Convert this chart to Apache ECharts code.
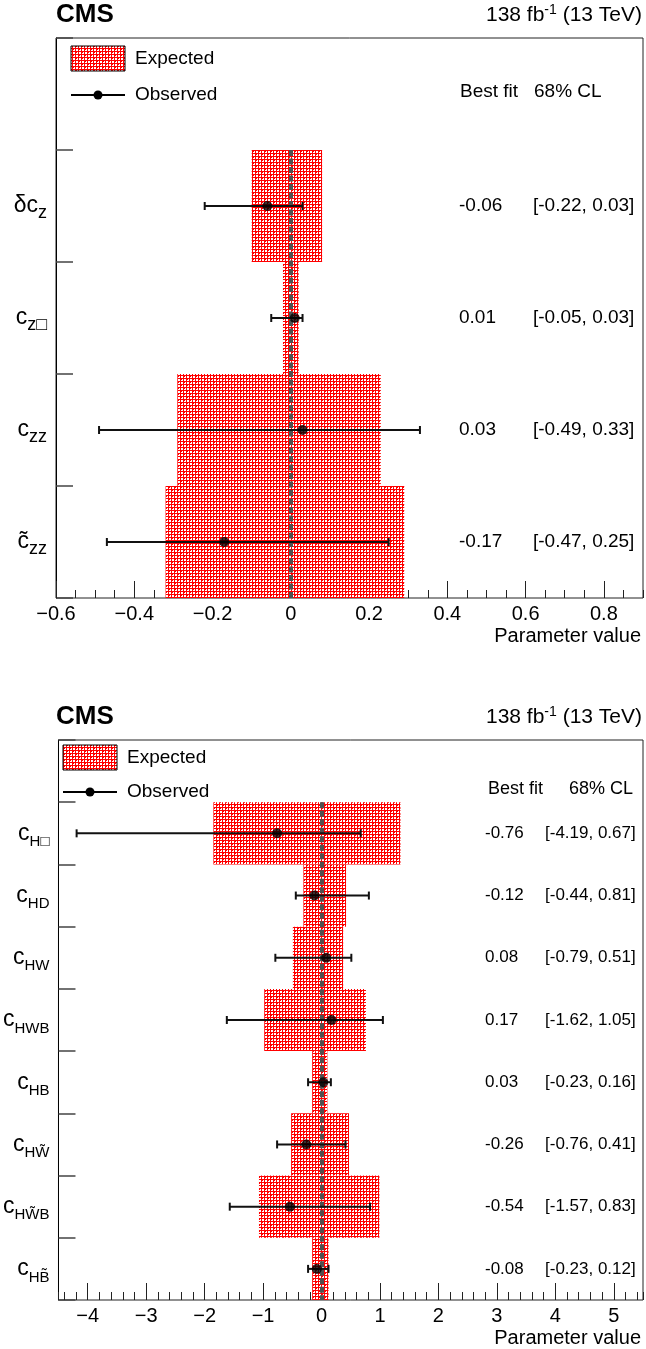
<!DOCTYPE html>
<html><head><meta charset="utf-8">
<script src="https://cdn.jsdelivr.net/npm/echarts@6/dist/echarts.min.js"></script>
<style>html,body{margin:0;padding:0;background:#fff}#c{width:646px;height:1349px}</style>
</head><body><div id="c"></div>
<script>
// ---------- data: top panel ----------
const catsTop = ['', '{m|δc}{s|z}', '{m|c}{s|z□}', '{m|c}{s|zz}', '{m|c̃}{s|zz}'];
const bestTop = [-0.06, 0.01, 0.03, -0.17];
const loTop   = [-0.22, -0.05, -0.49, -0.47];
const hiTop   = [0.03, 0.03, 0.33, 0.25];
const expLoTop = [-0.10, -0.02, -0.29, -0.32];
const expHiTop = [0.08, 0.02, 0.23, 0.29];
const xTicksTop = {min: -0.6, max: 0.9, major: 0.2, minor: 0.05};
// ---------- data: bottom panel ----------
const catsBot = ['', '{m|c}{s|H□}', '{m|c}{s|HD}', '{m|c}{s|HW}', '{m|c}{s|HWB}', '{m|c}{s|HB}', '{m|c}{s|HW̃}', '{m|c}{s|HW̃B}', '{m|c}{s|HB̃}'];
const bestBot = [-0.76, -0.12, 0.08, 0.17, 0.03, -0.26, -0.54, -0.08];
const loBot   = [-4.19, -0.44, -0.79, -1.62, -0.23, -0.76, -1.57, -0.23];
const hiBot   = [0.67, 0.81, 0.51, 1.05, 0.16, 0.41, 0.83, 0.12];
const expLoBot = [-1.85, -0.31, -0.49, -0.98, -0.16, -0.52, -1.07, -0.16];
const expHiBot = [1.35, 0.42, 0.37, 0.76, 0.10, 0.47, 0.99, 0.12];
const xTicksBot = {min: -4.5, max: 5.5, majorSplit: 10, minorSplit: 50};

const FONT = '"Liberation Sans", Arial, Helvetica, sans-serif';

function makePattern() {
  const c = document.createElement('canvas');
  c.width = 6; c.height = 6;
  const g = c.getContext('2d');
  g.fillStyle = '#ff0000'; g.fillRect(0, 0, 6, 6);
  g.fillStyle = '#ffffff';
  g.fillRect(1, 1, 2, 2); g.fillRect(4, 1, 2, 2);
  g.fillRect(1, 4, 2, 2); g.fillRect(4, 4, 2, 2);
  g.fillStyle = '#ff0000';
  g.fillRect(4, 4, 1, 1); g.fillRect(1, 1, 1, 1);
  return c;
}
const pattern = {image: makePattern(), repeat: 'repeat'};

function boxRender(params, api) {
  const y = api.value(2);
  const a = api.coord([api.value(0), y]);
  const b = api.coord([api.value(1), y]);
  const h = api.size([0, 1])[1];
  return {type: 'rect', shape: {x: a[0], y: a[1] - h / 2, width: b[0] - a[0], height: h},
          style: {fill: pattern}};
}
function errRender(params, api) {
  const y = api.value(2);
  const a = api.coord([api.value(0), y]);
  const b = api.coord([api.value(1), y]);
  const cap = 4;
  const st = {stroke: '#111', lineWidth: 2};
  return {type: 'group', children: [
    {type: 'line', shape: {x1: a[0], y1: a[1], x2: b[0], y2: b[1]}, style: st},
    {type: 'line', shape: {x1: a[0], y1: a[1] - cap, x2: a[0], y2: a[1] + cap}, style: st},
    {type: 'line', shape: {x1: b[0], y1: b[1] - cap, x2: b[0], y2: b[1] + cap}, style: st}
  ]};
}
// dashed zero line spanning the occupied bands
function zeroRender(params, api) {
  const h = api.size([0, 1])[1];
  const t = api.coord([api.value(0), api.value(1)]);
  const b = api.coord([api.value(0), api.value(2)]);
  const y0 = t[1] - h / 2, y1 = b[1] + h / 2;
  const dash = 6, gap = 2.5, w = 4;
  const kids = [];
  for (let y = y0; y < y1; y += dash + gap) {
    kids.push({type: 'rect', shape: {x: Math.round(t[0]) - w / 2, y: y, width: w, height: Math.min(dash, y1 - y)},
               style: {fill: '#505050'}});
  }
  return {type: 'group', children: kids};
}

function fmtTick(dec) {
  return function (v) {
    if (Math.abs(v) < 1e-9) return '0';
    const s = Math.abs(v).toFixed(dec);
    return v < 0 ? '\u2212' + s : s;
  };
}

const labelRich = function (sub) {
  return {
    m: {fontSize: 23, lineHeight: 32, verticalAlign: 'middle', fontFamily: FONT, color: '#000'},
    s: {fontSize: sub, lineHeight: sub, verticalAlign: 'bottom', fontFamily: FONT, color: '#000'}
  };
};

function mainX(grid, cfg, dec) {
  const ax = {
    type: 'value', gridIndex: grid, position: 'bottom', min: cfg.min, max: cfg.max,
    axisLine: {onZero: false, lineStyle: {color: '#000', width: 1}},
    axisTick: {show: true, inside: true, length: 17, lineStyle: {color: '#222', width: 1}},
    splitLine: {show: false},
    axisLabel: {fontSize: 20, fontFamily: FONT, color: '#000', margin: 6,
                showMaxLabel: false, formatter: fmtTick(dec)},
    name: 'Parameter value', nameLocation: 'end', nameGap: -2,
    nameTextStyle: {fontSize: 20, fontFamily: FONT, color: '#000', align: 'right',
                    verticalAlign: 'top', padding: [28, 0, 0, 0]}
  };
  if (cfg.major !== undefined) ax.interval = cfg.major; else ax.splitNumber = cfg.majorSplit;
  if (cfg.majorSplit !== undefined) ax.axisLabel.showMinLabel = false;
  return ax;
}
function minorX(grid, cfg) {
  const ax = {
    type: 'value', gridIndex: grid, position: 'bottom', min: cfg.min, max: cfg.max,
    axisLine: {show: false, onZero: false},
    axisTick: {show: true, inside: true, length: 8, lineStyle: {color: '#222', width: 1}},
    splitLine: {show: false}, axisLabel: {show: false}
  };
  if (cfg.minor !== undefined) ax.interval = cfg.minor; else ax.splitNumber = cfg.minorSplit;
  return ax;
}
function leftY(grid, cats, sub) {
  return {
    type: 'category', gridIndex: grid, data: cats, inverse: true, position: 'left',
    axisLine: {onZero: false, lineStyle: {color: '#000', width: 1}},
    axisTick: {show: true, inside: true, length: 17, lineStyle: {color: '#444', width: 1.5}},
    axisLabel: {margin: 9, rich: labelRich(sub), formatter: v => v},
    splitLine: {show: false}
  };
}
function rightY(grid, cats, best, lo, hi, fs, wa, wb) {
  return {
    type: 'category', gridIndex: grid, data: cats, inverse: true, position: 'right',
    axisLine: {show: false, onZero: false}, axisTick: {show: false}, splitLine: {show: false},
    axisLabel: {inside: true, margin: 6,
      formatter: function (v, i) {
        if (i === 0) return '';
        const k = i - 1;
        return '{a|' + best[k].toFixed(2) + '}{b|[' + lo[k].toFixed(2) + ', ' + hi[k].toFixed(2) + ']}';
      },
      rich: {a: {fontSize: fs, fontFamily: FONT, color: '#000', width: wa, align: 'left'},
             b: {fontSize: fs, fontFamily: FONT, color: '#000', width: wb, align: 'left'}}}
  };
}

function panelSeries(xi, yi, best, lo, hi, eLo, eHi) {
  const n = best.length;
  return [
    {type: 'custom', xAxisIndex: xi, yAxisIndex: yi, renderItem: boxRender, z: 1,
     encode: {x: [0, 1], y: 2}, data: eLo.map((v, i) => [v, eHi[i], i + 1])},
    {type: 'custom', xAxisIndex: xi, yAxisIndex: yi, renderItem: zeroRender, z: 2,
     encode: {x: 0, y: [1, 2]}, data: [[0, 1, n]]},
    {type: 'custom', xAxisIndex: xi, yAxisIndex: yi, renderItem: errRender, z: 3,
     encode: {x: [0, 1], y: 2}, data: lo.map((v, i) => [v, hi[i], i + 1])},
    {type: 'scatter', xAxisIndex: xi, yAxisIndex: yi, z: 4, symbol: 'circle', symbolSize: 10,
     itemStyle: {color: '#000'}, data: best.map((v, i) => [v, i + 1])}
  ];
}

function headerGraphics(top, legX, legTop, obsY, hdrX1, hdrX2, hdrFs) {
  const ts = (t, x, y, fs) => ({type: 'text', x: x, y: y,
    style: {text: t, fontSize: fs, fontFamily: FONT, fill: '#000', verticalAlign: 'middle'}});
  return [
    {type: 'text', left: 56, top: top - 13, style: {text: 'CMS', fontSize: 26, fontWeight: 'bold', fontFamily: FONT, fill: '#000'}},
    {type: 'text', right: 4, top: top - 12, style: {text: '138 fb{sup|-1} (13 TeV)', fontSize: 21, fontFamily: FONT, fill: '#000',
        rich: {sup: {fontSize: 14, fontFamily: FONT, verticalAlign: 'top', lineHeight: 24}}}},
    {type: 'rect', shape: {x: legX, y: legTop, width: 54, height: 25}, style: {fill: pattern, stroke: '#000', lineWidth: 1}},
    ts('Expected', legX + 64, legTop + 13, 19),
    {type: 'line', shape: {x1: legX, y1: obsY, x2: legX + 54, y2: obsY}, style: {stroke: '#000', lineWidth: 2}},
    {type: 'circle', shape: {cx: legX + 27, cy: obsY, r: 4.5}, style: {fill: '#000'}},
    ts('Observed', legX + 64, obsY, 19),
    ts('Best fit', hdrX1, obsY - 3, hdrFs),
    ts('68% CL', hdrX2, obsY - 3, hdrFs)
  ];
}

const chart = echarts.init(document.getElementById('c'), null, {renderer: 'canvas'});
chart.setOption({
  backgroundColor: '#fff',
  animation: false,
  textStyle: {fontFamily: FONT},
  grid: [
    {left: 56, right: 3, top: 38, height: 560, show: true, borderColor: '#222', borderWidth: 1, backgroundColor: 'transparent'},
    {left: 56, right: 3, top: 740, height: 560, show: true, borderColor: '#222', borderWidth: 1, backgroundColor: 'transparent'}
  ],
  xAxis: [mainX(0, xTicksTop, 1), minorX(0, xTicksTop), mainX(1, xTicksBot, 0), minorX(1, xTicksBot)],
  yAxis: [leftY(0, catsTop, 18), rightY(0, catsTop, bestTop, loTop, hiTop, 19, 74, 104),
          leftY(1, catsBot, 15), rightY(1, catsBot, bestBot, loBot, hiBot, 17, 60, 92)],
  series: [].concat(
    panelSeries(0, 0, bestTop, loTop, hiTop, expLoTop, expHiTop),
    panelSeries(2, 2, bestBot, loBot, hiBot, expLoBot, expHiBot)
  ),
  graphic: [].concat(
    headerGraphics(15, 71, 46, 95, 460, 534, 19),
    headerGraphics(717, 63, 745, 792, 488, 569, 18)
  )
});
</script>
</body></html>
